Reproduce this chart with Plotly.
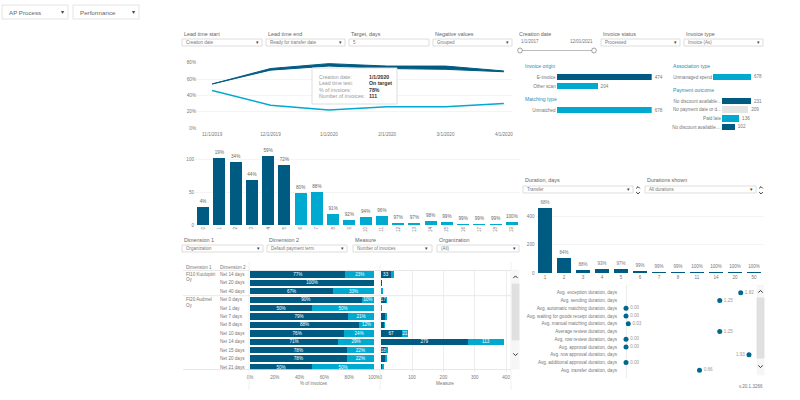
# AP performance dashboard, redrawn with plotly.
import plotly.graph_objects as go

# Lead time trend
months = ['11/1/2019', '12/1/2019', '1/1/2020', '2/1/2020', '3/1/2020', '4/1/2020']
on_target_low = [54, 71, 76, 73, 72, 69]
on_target_high = [54, 73, 79, 76, 76, 70]
over_target = [46, 28, 22, 26, 26, 30]
month_ticks = [0, 20, 40, 60, 80]
month_tick_text = ['0%', '20%', '40%', '60%', '80%']

# Lead time histogram
lead_days = [str(i) for i in range(20)]
lead_counts = [28, 101, 96, 68, 105, 91, 48, 50, 17, 8, 12, 14, 2.5, 3, 6, 4, 1, 1, 1, 4]
lead_pct = ['4%', '19%', '34%', '44%', '59%', '72%', '80%', '88%', '91%', '92%',
            '94%', '96%', '97%', '97%', '98%', '99%', '99%', '99%', '99%', '100%']
lead_on_target = [1, 1, 1, 1, 1, 1, 0, 0, 0, 0, 0, 0, 0, 0, 0, 0, 0, 0, 0, 0]

# Small bars on the right
origin_names = ['E-invoice', 'Other scan']
origin_values = [474, 204]
matching_names = ['Unmatched']
matching_values = [678]
association_names = ['Unmanaged spend']
association_values = [678]
outcome_names = ['No discount available...', 'No payment date or d...', 'Paid late', 'No discount available... ']
outcome_values = [231, 209, 136, 102]

# Duration histogram
duration_days = ['1', '2', '3', '4', '5', '6', '7', '8', '11', '14', '20', '50']
duration_counts = [459, 106, 24, 31, 26, 14, 2, 1, 1, 1, 1, 1]
duration_pct = ['68%', '84%', '88%', '93%', '97%', '99%', '99%', '99%', '100%', '100%', '100%', '100%']

# Table of dimensions
dim2_rows = ['Net 14 days', 'Net 20 days', 'Net 40 days', 'Net 0 days', 'Net 1 day', 'Net 7 days',
             'Net 8 days', 'Net 10 days', 'Net 14 days ', 'Net 15 days', 'Net 20 days ', 'Net 21 days']
pct_on_target = [77, 100, 67, 90, 50, 79, 88, 76, 71, 78, 78, 50]
pct_over = [23, 0, 33, 10, 50, 21, 12, 24, 29, 22, 22, 50]
measure_on_target = [33, 1, 3, 17, 1, 13, 10, 67, 279, 18, 14, 4]
measure_over = [10, 0, 2, 2, 1, 3, 1, 21, 113, 5, 4, 4]
measure_on_text = ['33', '', '', '17', '', '', '', '67', '279', '18', '', '']
measure_over_text = ['', '', '', '', '', '', '', '21', '113', '', '', '']
measure_ticks = [0, 100, 200, 300, 400]
pct_ticks = [0, 20, 40, 60, 80, 100]
pct_tick_text = ['0%', '20%', '40%', '60%', '80%', '100%']

avg_names = ['Avg. exception duration, days', 'Avg. sending duration, days',
             'Avg. automatic matching duration, days', 'Avg. waiting for goods receipt duration, days',
             'Avg. manual matching duration, days', 'Average review duration, days',
             'Avg. row review duration, days', 'Avg. approval duration, days',
             'Avg. row approval duration, days', 'Avg. additional approval duration, days',
             'Avg. transfer duration, days']
avg_positions = [1.53, 1.25, 0, 0, 0.03, 1.25, 0, 0, 1.64, 0, 0.98]
avg_labels = ['1.82', '1.25', '0.00', '0.00', '0.03', '1.25', '0.00', '0.00', '1.93', '0.00', '0.66']

DARK = '#005b82'
LIGHT = '#00a9cf'
GREY = '#e3e5e5'
TEXT = '#777777'
FONT = 'Liberation Sans'
W, H = 800, 400


def px(x):
    return x / W


def py(y):
    return 1 - y / H


def dom_x(a, b):
    return [px(a), px(b)]


def dom_y(top, bottom):
    return [py(bottom), py(top)]


shapes = []
notes = []


def label(x, y, text, size=5, color=TEXT, anchor='left', bold=False):
    notes.append(dict(xref='paper', yref='paper', x=px(x), y=py(y), text='<b>%s</b>' % text if bold else text,
                      showarrow=False, xanchor=anchor, yanchor='middle',
                      font=dict(size=size, color=color, family=FONT)))


def box(x0, y0, x1, y1, fill='white', line='#d4d4d4', width=0.8):
    shapes.append(dict(type='rect', xref='paper', yref='paper', x0=px(x0), x1=px(x1), y0=py(y0), y1=py(y1),
                       fillcolor=fill, line=dict(color=line, width=width)))


def hline(x0, x1, y, color='#e2e2e2', width=0.8):
    shapes.append(dict(type='line', xref='paper', yref='paper', x0=px(x0), x1=px(x1), y0=py(y), y1=py(y),
                       line=dict(color=color, width=width)))


def vline(x, y0, y1, color='#ececec', width=0.8):
    shapes.append(dict(type='line', xref='paper', yref='paper', x0=px(x), x1=px(x), y0=py(y0), y1=py(y1),
                       line=dict(color=color, width=width)))


def chevron(x, y, up=True, size=2.2):
    d = -1 if up else 1
    path = 'M %f %f L %f %f L %f %f' % (px(x - size), py(y - d * size / 2), px(x), py(y + d * size / 2),
                                        px(x + size), py(y - d * size / 2))
    shapes.append(dict(type='path', xref='paper', yref='paper', path=path, line=dict(color='#333333', width=1)))


def dropdown(x0, x1, y0, y1, title, value, caret=True):
    if title:
        label(x0, y0 - 5.5, title, size=5.4, color='#666666')
    box(x0, y0, x1, y1)
    label(x0 + 2, (y0 + y1) / 2, value, size=4.5, color='#777777')
    if caret:
        label(x1 - 5, (y0 + y1) / 2, '▾', size=4.5, color='#444444', anchor='center')


def scrollbar(x0, x1, y0, y1, thumb0, thumb1):
    box(x0, y0, x1, y1, fill='#f6f6f6', line='#f6f6f6')
    box(x0, thumb0, x1, thumb1, fill='#e0e0e0', line='#e0e0e0')
    chevron((x0 + x1) / 2, (y0 + thumb0) / 2)
    chevron((x0 + x1) / 2, (thumb1 + y1) / 2, up=False)


fig = go.Figure()

# trend lines
fig.add_trace(go.Scatter(x=months, y=on_target_low, mode='lines', line=dict(color=DARK, width=1), xaxis='x', yaxis='y'))
fig.add_trace(go.Scatter(x=months, y=on_target_high, mode='lines', line=dict(color=DARK, width=1), fill='tonexty',
                         fillcolor=DARK, xaxis='x', yaxis='y'))
fig.add_trace(go.Scatter(x=months, y=over_target, mode='lines', line=dict(color=LIGHT, width=1.5), xaxis='x', yaxis='y'))

# lead time bars
fig.add_trace(go.Bar(x=lead_days, y=lead_counts, text=lead_pct, textposition='outside', cliponaxis=False,
                     marker_color=[DARK if v else LIGHT for v in lead_on_target], marker_line_width=0,
                     textfont=dict(size=4.6, color='#666666'), xaxis='x2', yaxis='y2'))

# duration bars
fig.add_trace(go.Bar(x=duration_days, y=duration_counts, text=duration_pct, textposition='outside', cliponaxis=False,
                     marker_color=DARK, marker_line_width=0, textfont=dict(size=4.5, color=TEXT),
                     xaxis='x3', yaxis='y3'))


def small_bar(names, values, colors, xa, ya):
    fig.add_trace(go.Bar(x=values, y=names, orientation='h', text=values, textposition='outside', cliponaxis=False,
                         marker_color=colors, marker_line_width=0, textfont=dict(size=4.6, color=TEXT),
                         xaxis=xa, yaxis=ya))


small_bar(origin_names, origin_values, [DARK, LIGHT], 'x4', 'y4')
small_bar(matching_names, matching_values, [LIGHT], 'x5', 'y5')
small_bar(association_names, association_values, [LIGHT], 'x6', 'y6')
small_bar(outcome_names, outcome_values, [DARK, GREY, LIGHT, DARK], 'x7', 'y7')


def stacked(values, text, color, xa, ya):
    fig.add_trace(go.Bar(x=values, y=dim2_rows, orientation='h', text=text, textposition='inside',
                         insidetextanchor='middle', constraintext='none', textangle=0, marker_color=color,
                         marker_line_width=0, textfont=dict(size=4.6, color='white'), xaxis=xa, yaxis=ya))


stacked(pct_on_target, ['%d%%' % v for v in pct_on_target], DARK, 'x8', 'y8')
stacked(pct_over, ['%d%%' % v if v else '' for v in pct_over], LIGHT, 'x8', 'y8')
stacked(measure_on_target, measure_on_text, DARK, 'x9', 'y8')
stacked(measure_over, measure_over_text, LIGHT, 'x9', 'y8')

# average durations
fig.add_trace(go.Scatter(x=avg_positions, y=avg_names, mode='markers+text', text=avg_labels,
                         textposition=['middle left' if t == '1.93' else 'middle right' for t in avg_labels],
                         marker=dict(size=5, color='#00688f'), textfont=dict(size=4.6, color='#999999'),
                         cliponaxis=False, xaxis='x10', yaxis='y10'))

tick = dict(size=4.6, color='#777777', family=FONT)
plain = dict(showgrid=False, zeroline=False, showline=False, ticks='')
hidden = dict(visible=False, fixedrange=True)

# template none: the default one turns on automargin, which shrinks the paper
fig.update_layout(
    template='none',
    width=W, height=H, margin=dict(l=0, r=0, t=0, b=0), autosize=False, showlegend=False, bargap=0.25,
    paper_bgcolor='white', plot_bgcolor='white', barmode='stack', font=dict(family=FONT, size=5, color=TEXT),
    # trend
    xaxis=dict(domain=dom_x(197, 512), anchor='y', type='category', range=[-0.26, 5.14], tickfont=tick,
               ticklabelstandoff=2, **plain),
    yaxis=dict(domain=dom_y(62, 128), anchor='x', range=[0, 81], tickvals=month_ticks, ticktext=month_tick_text,
               tickfont=tick, showgrid=True, gridcolor='#f4f4f4', zeroline=False, ticks=''),
    # lead time histogram
    xaxis2=dict(domain=dom_x(195, 520), anchor='y2', type='category', tickangle=-90, tickfont=tick, **plain),
    yaxis2=dict(domain=dom_y(148, 225), anchor='x2', range=[0, 116.7], tickvals=[0, 50, 100], tickfont=tick,
                showgrid=True, gridcolor='#f4f4f4', zeroline=False, ticks=''),
    # duration histogram
    xaxis3=dict(domain=dom_x(535.5, 763.5), anchor='y3', type='category', tickfont=tick, **plain),
    yaxis3=dict(domain=dom_y(200, 273), anchor='x3', range=[0, 516], tickvals=[0, 200, 400], tickfont=tick,
                showgrid=True, gridcolor='#f4f4f4', zeroline=False, ticks=''),
    # small bars
    xaxis4=dict(domain=dom_x(556.7, 651.7), anchor='y4', range=[0, 474], **hidden),
    yaxis4=dict(domain=dom_y(72.6, 90.6), anchor='x4', autorange='reversed', tickfont=tick, **plain),
    xaxis5=dict(domain=dom_x(556.7, 651.7), anchor='y5', range=[0, 678], **hidden),
    yaxis5=dict(domain=dom_y(105.5, 114.5), anchor='x5', tickfont=tick, **plain),
    xaxis6=dict(domain=dom_x(713, 751), anchor='y6', range=[0, 678], **hidden),
    yaxis6=dict(domain=dom_y(72.5, 81.5), anchor='x6', tickfont=tick, **plain),
    xaxis7=dict(domain=dom_x(722, 751), anchor='y7', range=[0, 231], **hidden),
    yaxis7=dict(domain=dom_y(96.7, 131.3), anchor='x7', autorange='reversed', tickfont=tick, **plain),
    # table
    xaxis8=dict(domain=dom_x(250, 374), anchor='y8', range=[0, 100], tickvals=pct_ticks, ticktext=pct_tick_text,
                tickfont=tick, ticklabelstandoff=2, **plain),
    yaxis8=dict(domain=dom_y(270, 371.5), anchor='x8', autorange='reversed', showticklabels=False, **plain),
    xaxis9=dict(domain=dom_x(380.7, 510), anchor='y8', range=[0, 412.4], tickvals=measure_ticks, tickfont=tick,
                ticklabelstandoff=2, showgrid=True, gridcolor='#ededed', zeroline=False, ticks=''),
    # averages
    xaxis10=dict(domain=dom_x(618, 760), anchor='y10', range=[-0.107, 1.787], showticklabels=False, showgrid=False,
                 zeroline=True, zerolinecolor='#ececec', zerolinewidth=1, ticks=''),
    yaxis10=dict(domain=dom_y(285.1, 377.9), anchor='x10', autorange='reversed', tickfont=tick, **plain),
)

# top selectors
box(2, 5, 68, 19, line='#dddddd')
label(7, 12, 'AP Process', size=6.2, color='#666666')
label(62, 12, '▾', size=6, color='#444444', anchor='center')
box(73, 5, 139, 19, line='#dddddd')
label(78, 12, 'Performance', size=6.2, color='#666666')
label(133, 12, '▾', size=6, color='#444444', anchor='center')

# first control row
dropdown(182, 262, 39, 46, 'Lead time start', 'Creation date')
dropdown(266, 345, 39, 46, 'Lead time end', 'Ready for transfer date')
dropdown(349, 429, 39, 46, 'Target, days', '5', caret=False)
dropdown(433, 512, 39, 46, 'Negative values', 'Grouped')
dropdown(601, 680, 39, 46, 'Invoice status', 'Processed')
dropdown(684, 763, 39, 46, 'Invoice type', 'Invoice (As)')

# date slider
label(517, 33.5, 'Creation date', size=5.4, color='#666666')
label(519, 42, '1/1/2017', size=4.5)
label(595, 42, '12/01/2021', size=4.5, anchor='right')
hline(520, 594, 50.5, color='#bbbbbb', width=1)
for cx in (520, 594):
    shapes.append(dict(type='circle', xref='paper', yref='paper', x0=px(cx - 2.3), x1=px(cx + 2.3), y0=py(53),
                       y1=py(48), fillcolor='white', line=dict(color='#888888', width=0.8)))

# second control row
dropdown(182, 263, 245, 252, 'Dimension 1', 'Organization')
dropdown(267, 347, 245, 252, 'Dimension 2', 'Default payment term')
dropdown(353, 432, 245, 252, 'Measure', 'Number of invoices')
dropdown(437, 519, 245, 252, 'Organization', '(All)')

# duration controls
dropdown(523, 633, 186, 193, 'Duration, days', 'Transfer')
dropdown(645, 756, 186, 193, 'Durations shown', 'All durations')
for cx in (638, 761):
    chevron(cx, 187.5, size=1.8)
    chevron(cx, 193, up=False, size=1.8)

# tooltip over the trend
box(312, 68, 397, 104, line='#dddddd', width=1)
tip_names = ['Creation date:', 'Lead time test:', '% of invoices:', 'Number of invoices:']
tip_values = ['1/1/2020', 'On target', '78%', '111']
for i in range(4):
    label(317, 77 + i * 6.3, tip_names[i], size=5.2, color='#999999')
    label(367, 77 + i * 6.3, tip_values[i], size=5.2, color='#333333', bold=True)

# section titles
for x, y, t in [(523, 66, 'Invoice origin'), (523, 99, 'Matching type'),
                (671, 66, 'Association type'), (671, 90, 'Payment outcome')]:
    label(x, y, t, size=5.1, color='#1a8fb5')

# table frame
vline(249, 262, 390)
vline(380, 265, 390)
vline(511, 262, 390)
hline(183, 511, 270.5)
hline(183, 511, 295.7)
hline(183, 511, 369.5)
label(184, 267, 'Dimension 1', size=4.6)
label(218, 267, 'Dimension 2', size=4.6)
label(184, 274, 'FI10 Kuulopiiri', size=4.6)
label(184, 279.5, 'Oy', size=4.6)
label(184, 299.5, 'FI20 Audmel', size=4.6)
label(184, 305, 'Oy', size=4.6)
for row in dim2_rows:
    notes.append(dict(xref='paper', yref='y8', x=px(218), y=row, text=row.strip(), showarrow=False, xanchor='left',
                      font=dict(size=4.6, color=TEXT, family=FONT)))
label(314, 383, '% of invoices', size=4.6, anchor='center')
label(445, 383, 'Measure', size=4.6, anchor='center')
scrollbar(512, 519, 270, 369, 284, 340)

scrollbar(757, 764, 285, 375, 298, 358)
label(765, 386, 'v.20.1.3266', size=4.6, anchor='right')

fig.update_layout(shapes=shapes, annotations=notes)

fig.write_html("out.html", config=dict(displayModeBar=False), post_script="document.body.style.margin='0';")
